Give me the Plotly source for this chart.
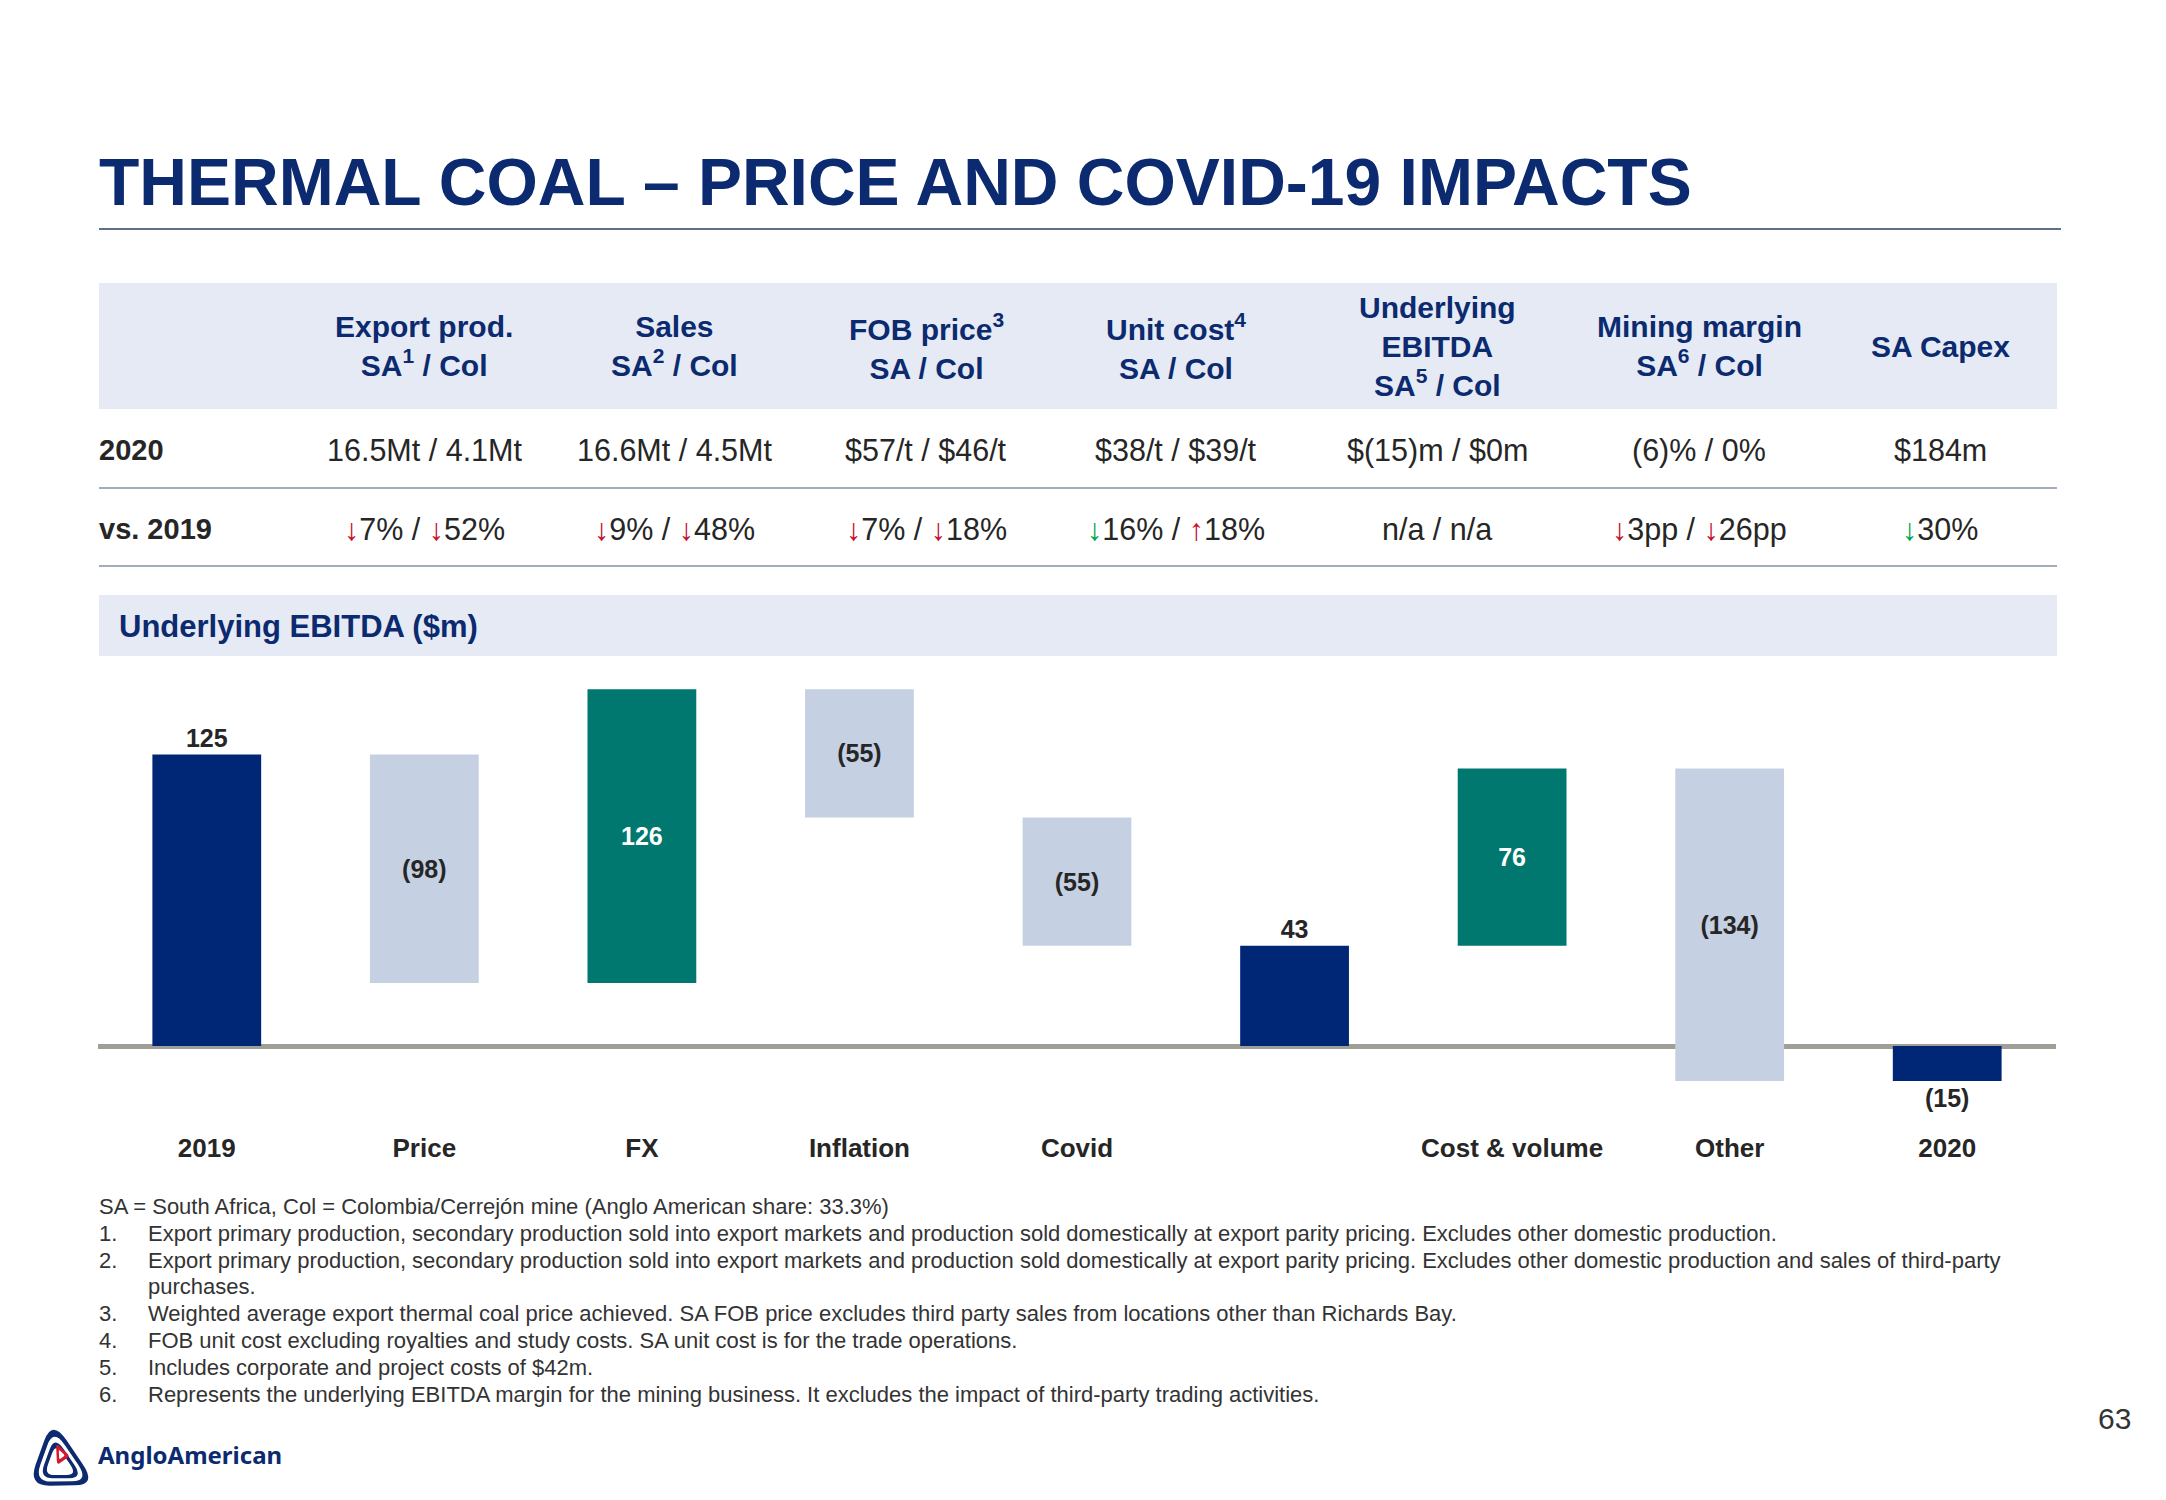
import plotly.graph_objects as go

W, H = 2166, 1500
FONT = "Liberation Sans, Arial, sans-serif"
NAVY = "#0B2A6F"
DARK = "#262626"

# ---------------- data ----------------
categories = ["2019", "Price", "FX", "Inflation", "Covid", "Subtotal", "Cost & volume", "Other", "2020"]
category_labels = ["2019", "Price", "FX", "Inflation", "Covid", " ", "Cost & volume", "Other", "2020"]
measures = ["absolute", "relative", "relative", "relative", "relative", "total", "relative", "relative", "total"]
ebitda_values = [125, -98, 126, -55, -55, 0, 76, -134, 0]

header_labels = [
    "Export prod.<br>SA<sup>1</sup> / Col",
    "Sales<br>SA<sup>2</sup> / Col",
    "FOB price<sup>3</sup><br>SA / Col",
    "Unit cost<sup>4</sup><br>SA / Col",
    "Underlying<br>EBITDA<br>SA<sup>5</sup> / Col",
    "Mining margin<br>SA<sup>6</sup> / Col",
    "SA Capex",
]
row_labels = ["2020", "vs. 2019"]
values_2020 = ["16.5Mt / 4.1Mt", "16.6Mt / 4.5Mt", "$57/t / $46/t", "$38/t / $39/t",
               "$(15)m / $0m", "(6)% / 0%", "$184m"]
# (arrow, tone, value); tone: "neg" = red, "pos" = green
change_vs_2019 = [
    [("↓", "neg", "7%"), ("↓", "neg", "52%")],
    [("↓", "neg", "9%"), ("↓", "neg", "48%")],
    [("↓", "neg", "7%"), ("↓", "neg", "18%")],
    [("↓", "pos", "16%"), ("↑", "neg", "18%")],
    [("", "", "n/a"), ("", "", "n/a")],
    [("↓", "neg", "3pp"), ("↓", "neg", "26pp")],
    [("↓", "pos", "30%")],
]
footnote_intro = "SA = South Africa, Col = Colombia/Cerrejón mine (Anglo American share: 33.3%)"
footnotes = [
    ("1.", "Export primary production, secondary production sold into export markets and production sold domestically at export parity pricing. Excludes other domestic production."),
    ("2.", "Export primary production, secondary production sold into export markets and production sold domestically at export parity pricing. Excludes other domestic production and sales of third-party"),
    ("", "purchases."),
    ("3.", "Weighted average export thermal coal price achieved. SA FOB price excludes third party sales from locations other than Richards Bay."),
    ("4.", "FOB unit cost excluding royalties and study costs. SA unit cost is for the trade operations."),
    ("5.", "Includes corporate and project costs of $42m."),
    ("6.", "Represents the underlying EBITDA margin for the mining business. It excludes the impact of third-party trading activities."),
]
title_text = "THERMAL COAL – PRICE AND COVID-19 IMPACTS"
section_text = "Underlying EBITDA ($m)"
page_number = "63"

# ---------------- helpers ----------------
def X(p):
    return p / W

def Y(p):
    return 1 - p / H

annotations = []
shapes = []

def ann(text, x, y, size, color=DARK, weight="normal", xanchor="center", yanchor="middle", align="center"):
    annotations.append(dict(
        text=text, x=X(x), y=Y(y), xref="paper", yref="paper", showarrow=False,
        xanchor=xanchor, yanchor=yanchor, align=align,
        font=dict(family=FONT, size=size, color=color, weight=weight),
    ))

def rect(x0, y0, x1, y1, color):
    shapes.append(dict(type="rect", xref="paper", yref="paper", x0=X(x0), x1=X(x1),
                       y0=Y(y1), y1=Y(y0), fillcolor=color, line=dict(width=0), layer="below"))

def hline(x0, x1, y, color, width):
    shapes.append(dict(type="line", xref="paper", yref="paper", x0=X(x0), x1=X(x1),
                       y0=Y(y), y1=Y(y), line=dict(color=color, width=width), layer="below"))

def rtri(pts, t, color):
    def lerp(a, b, f):
        return (a[0] + (b[0] - a[0]) * f, a[1] + (b[1] - a[1]) * f)
    def fmt(p):
        return f"{X(p[0]):.5f},{Y(p[1]):.5f}"
    ins, outs = [], []
    for i in range(3):
        p, prv, nxt = pts[i], pts[i - 1], pts[(i + 1) % 3]
        ins.append(lerp(p, prv, t))
        outs.append(lerp(p, nxt, t))
    path = f"M {fmt(outs[0])} "
    for i in [1, 2, 0]:
        path += f"L {fmt(ins[i])} Q {fmt(pts[i])} {fmt(outs[i])} "
    path += "Z"
    shapes.append(dict(type="path", xref="paper", yref="paper", path=path,
                       fillcolor=color, line=dict(width=0), layer="above"))

# ---------------- slide furniture ----------------
ann(title_text, 97, 182, 66, NAVY, "bold", xanchor="left")
hline(99, 2061, 229, "#2B3F66", 1.5)

rect(99, 283, 2057, 409, "#E6EAF4")
hline(99, 2057, 488, "#A3ACB9", 2)
hline(99, 2057, 566, "#A3ACB9", 2)
rect(99, 595, 2057, 656, "#E6EAF4")

col_x = [424, 674, 926, 1176, 1437, 1699, 1940]
for cx, lab in zip(col_x, header_labels):
    ann(lab, cx, 346, 30, NAVY, "bold")

row_y = [450, 529]
ann(row_labels[0], 97, row_y[0], 29, DARK, "bold", xanchor="left")
ann(row_labels[1], 97, row_y[1], 29, DARK, "bold", xanchor="left")

TONES = {"neg": "#C8102E", "pos": "#00A651", "": DARK}
for cx, v in zip(col_x, values_2020):
    ann(v, cx, row_y[0], 30.5, DARK)
for cx, cell in zip(col_x, change_vs_2019):
    parts = []
    for arrow, tone, val in cell:
        s = ""
        if arrow:
            s += f"<span style='color:{TONES[tone]}'>{arrow}</span>"
        s += val
        parts.append(s)
    ann(" / ".join(parts), cx, row_y[1], 30.5, DARK)

ann(section_text, 117, 627, 31, NAVY, "bold", xanchor="left")

# footnotes
FN = 22
ann(footnote_intro, 97, 1206, FN, "#333333", xanchor="left")
fy = [1233, 1260, 1286, 1313, 1340, 1367, 1394]
for y, (num, txt) in zip(fy, footnotes):
    if num:
        ann(num, 97, y, FN, "#333333", xanchor="left")
    ann(txt, 146, y, FN, "#333333", xanchor="left")

ann(page_number, 2133, 1418, 30, "#333333", xanchor="right")

# logo
def scaled(pts, s, c):
    return [(c[0] + (p[0] - c[0]) * s, c[1] + (p[1] - c[1]) * s) for p in pts]
outer = [(52, 1419), (28, 1486), (97, 1485)]
cen = (sum(p[0] for p in outer) / 3, sum(p[1] for p in outer) / 3 + 2)
rtri(outer, 0.32, "#0B2A6F")
rtri(scaled(outer, 0.80, cen), 0.32, "white")
rtri(scaled(outer, 0.64, cen), 0.32, "#0B2A6F")
rtri(scaled(outer, 0.48, cen), 0.32, "white")
red = [(56, 1443), (57, 1465), (70, 1456)]
rtri(red, 0.2, "#D3192D")
rtri(scaled(red, 0.45, (61, 1455)), 0.2, "white")
annotations.append(dict(text="AngloAmerican", x=X(96), y=Y(1454), xref="paper", yref="paper",
                        showarrow=False, xanchor="left", yanchor="middle",
                        font=dict(family="Noto Sans, Open Sans, sans-serif", size=24, color="#0B2A6F", weight="bold")))

# ---------------- waterfall ----------------
labels = []
running = 0
for m, v in zip(measures, ebitda_values):
    if m == "absolute":
        running = v
        val = v
    elif m == "relative":
        running += v
        val = v
    else:
        val = running
    labels.append(f"({abs(val)})" if val < 0 else f"{val}")

text_pos = ["outside" if m != "relative" else "inside" for m in measures]
text_col = ["white" if (m == "relative" and v > 0) else DARK for m, v in zip(measures, ebitda_values)]

fig = go.Figure(go.Waterfall(
    x=categories, y=ebitda_values, measure=measures,
    text=labels, textposition=text_pos, insidetextanchor="middle",
    textfont=dict(family=FONT, size=25, color=text_col, weight="bold"),
    constraintext="none", cliponaxis=False,
    increasing=dict(marker=dict(color="#00786F")),
    decreasing=dict(marker=dict(color="#C5D0E2")),
    totals=dict(marker=dict(color="#002776")),
    connector=dict(visible=False),
    hoverinfo="skip",
))

y_lo, y_hi = -30, 200
fig.update_layout(
    width=W, height=H, margin=dict(l=0, r=0, t=0, b=0),
    paper_bgcolor="white", plot_bgcolor="rgba(0,0,0,0)",
    showlegend=False, waterfallgap=0.5,
    font=dict(family=FONT, color=DARK),
    xaxis=dict(domain=[X(98), X(2056)], range=[-0.5, 8.5], type="category",
               tickvals=categories, ticktext=category_labels, showgrid=False, showline=False,
               zeroline=False, ticks="", ticklabelstandoff=14,
               tickfont=dict(family=FONT, size=26, color=DARK, weight="bold")),
    yaxis=dict(domain=[Y(1116), Y(1116 - (y_hi - y_lo) * 2.332)], range=[y_lo, y_hi],
               showgrid=False, showticklabels=False, showline=False, ticks="",
               zeroline=True, zerolinecolor="#A09F97", zerolinewidth=5),
    annotations=annotations, shapes=shapes,
)

fig.write_html("out.html", config={"displayModeBar": False},
               post_script="document.body.style.margin='0';")
